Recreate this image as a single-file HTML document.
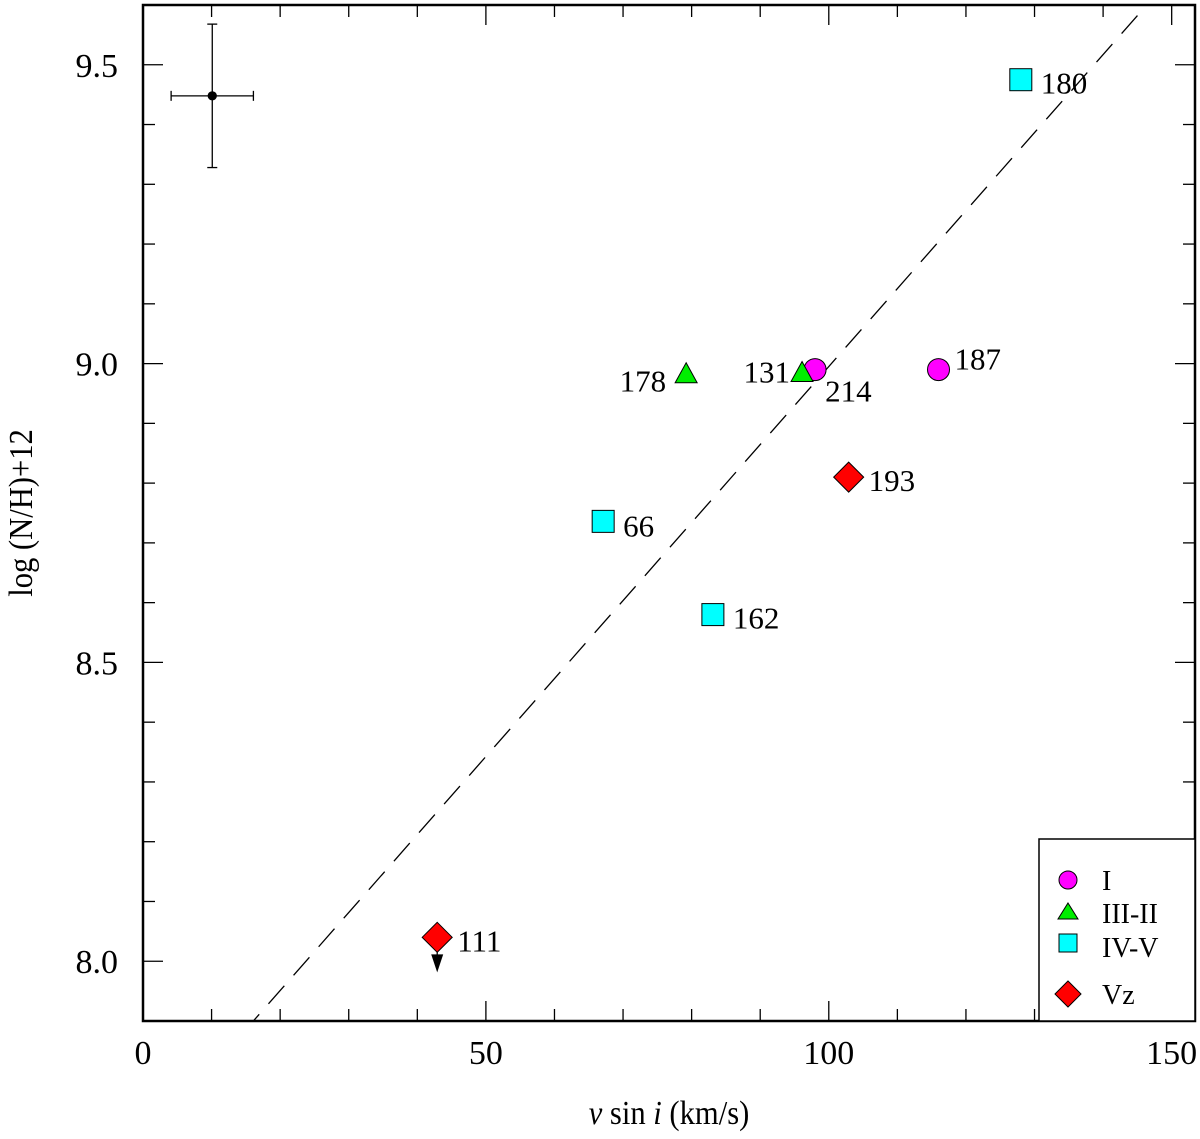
<!DOCTYPE html>
<html><head><meta charset="utf-8"><style>
html,body{margin:0;padding:0;background:#fff}
svg text{font-family:"Liberation Serif",serif;fill:#000}
</style></head><body>
<svg id="chart" width="1200" height="1134" viewBox="0 0 1200 1134" xmlns="http://www.w3.org/2000/svg">
<g id="grid"></g>
<g id="marks"></g>
<text x="669" y="1124" font-size="34" text-anchor="middle" transform="translate(669,0) scale(0.9,1) translate(-669,0)"><tspan font-style="italic">v</tspan> sin <tspan font-style="italic">i</tspan>  (km/s)</text>
<text transform="translate(32,513) rotate(-90) scale(0.9,1)" font-size="34" text-anchor="middle">log (N/H)+12</text>
<g>
<rect x="1039" y="839" width="156" height="182" fill="#fff" stroke="#000" stroke-width="1.5"/>
<circle cx="1068" cy="880" r="9" fill="#ff00ff" stroke="#000" stroke-width="1"/>
<text x="1102" y="890" font-size="28">I</text>
<polygon points="1068,903 1078,919 1058,919" fill="#00ee00" stroke="#000" stroke-width="1"/>
<text x="1102" y="923" font-size="28">III-II</text>
<rect x="1059" y="934" width="18" height="18" fill="#00ffff" stroke="#000" stroke-width="1"/>
<text x="1102" y="957" font-size="28">IV-V</text>
<polygon points="1068,981 1081,994 1068,1007 1055,994" fill="#ff0000" stroke="#000" stroke-width="1"/>
<text x="1102" y="1004" font-size="28">Vz</text>
</g>
</svg>
<script>
const xs=[98,116,79.2,96.1,128,67.1,83.1,102.9,42.9];
const ys=[8.99,8.99,8.983,8.985,9.475,8.736,8.58,8.81,8.04];
const types=['I','I','III','III','IV','IV','IV','Vz','Vz'];
const labels=['214','187','178','131','180','66','162','193','111'];
const xTicks=[0,50,100,150];
const yTicks=[8.0,8.5,9.0,9.5];
const fitSlope=0.01305, fitIntercept=7.69;
const errX=[10.1], errY=[9.448], errDX=[6], errDY=[0.12];

const X0=143,X1=1195,Y0=5,Y1=1021;
const xmin=0,xmax=153.4,ymin=7.9,ymax=9.6;
const sx=v=>X0+(v-xmin)/(xmax-xmin)*(X1-X0);
const sy=v=>Y1-(v-ymin)/(ymax-ymin)*(Y1-Y0);
const NS='http://www.w3.org/2000/svg';
function mk(tag,attrs,parent){const e=document.createElementNS(NS,tag);for(const k in attrs)e.setAttribute(k,attrs[k]);parent.appendChild(e);return e;}
const grid=document.getElementById('grid'),marks=document.getElementById('marks');

const clip=mk('clipPath',{id:'pc'},grid);mk('rect',{x:X0,y:Y0,width:X1-X0,height:Y1-Y0},clip);
const fl=mk('line',{x1:sx(0),y1:sy(fitIntercept),x2:sx(xmax),y2:sy(fitIntercept+fitSlope*xmax),stroke:'#000','stroke-width':1.3,'stroke-dasharray':'24,14','clip-path':'url(#pc)'},grid);



for(let v=0;v<=150;v+=10){const major=v%50===0;const L=major?20:12;
mk('line',{x1:sx(v),y1:Y1,x2:sx(v),y2:Y1-L,stroke:'#000','stroke-width':1.3},grid);
mk('line',{x1:sx(v),y1:Y0,x2:sx(v),y2:Y0+L,stroke:'#000','stroke-width':1.3},grid);}
for(let i=0;i<=17;i++){const v=7.9+i*0.1;const major=Math.abs(v*2-Math.round(v*2))<1e-6;const L=major?20:12;
mk('line',{x1:X0,y1:sy(v),x2:X0+L,y2:sy(v),stroke:'#000','stroke-width':1.3},grid);
mk('line',{x1:X1,y1:sy(v),x2:X1-L,y2:sy(v),stroke:'#000','stroke-width':1.3},grid);}
xTicks.forEach(v=>{const t=mk('text',{x:sx(v),y:1064,'font-size':34,'text-anchor':'middle'},grid);t.textContent=v;

});
yTicks.forEach(v=>{const t=mk('text',{x:118,y:sy(v)+12,'font-size':34,'text-anchor':'end'},grid);t.textContent=v.toFixed(1);

});
const fr=mk('rect',{x:X0,y:Y0,width:X1-X0,height:Y1-Y0,fill:'none',stroke:'#000','stroke-width':2.5},grid);



errX.forEach((v,i)=>{const cx=sx(v),cy=sy(errY[i]);const x1=sx(v-errDX[i]),x2=sx(v+errDX[i]),y1=sy(errY[i]+errDY[i]),y2=sy(errY[i]-errDY[i]);
const g=mk('g',{stroke:'#000','stroke-width':1.3},marks);


mk('line',{x1:x1,y1:cy,x2:x2,y2:cy},g);mk('line',{x1:cx,y1:y1,x2:cx,y2:y2},g);
mk('line',{x1:x1,y1:cy-5,x2:x1,y2:cy+5},g);mk('line',{x1:x2,y1:cy-5,x2:x2,y2:cy+5},g);
mk('line',{x1:cx-5,y1:y1,x2:cx+5,y2:y1},g);mk('line',{x1:cx-5,y1:y2,x2:cx+5,y2:y2},g);
mk('circle',{cx:cx,cy:cy,r:4,fill:'#000'},g);});

const lo={'214':[10,32,'start'],'187':[16,0,'start'],'178':[-20,18,'end'],'131':[-12,10,'end'],'180':[20,14,'start'],'66':[20,15,'start'],'162':[20,14,'start'],'193':[20,14,'start'],'111':[20,14,'start']};
xs.forEach((v,i)=>{const cx=sx(v),cy=sy(ys[i]);let e;
if(types[i]==='I')e=mk('circle',{cx:cx,cy:cy,r:11,fill:'#ff00ff',stroke:'#000','stroke-width':1},marks);
else if(types[i]==='III')e=mk('polygon',{points:`${cx},${cy-11} ${cx+11},${cy+9} ${cx-11},${cy+9}`,fill:'#00ee00',stroke:'#000','stroke-width':1},marks);
else if(types[i]==='IV')e=mk('rect',{x:cx-11,y:cy-11,width:22,height:22,fill:'#00ffff',stroke:'#000','stroke-width':1},marks);
else{ if(labels[i]==='111'){const a=mk('g',{},marks);
 mk('line',{x1:cx,y1:cy,x2:cx,y2:cy+25,stroke:'#000','stroke-width':1.3},a);
 mk('polygon',{points:`${cx-6},${cy+17} ${cx+6},${cy+17} ${cx},${cy+35}`,fill:'#000'},a);}
 e=mk('polygon',{points:`${cx},${cy-15} ${cx+15},${cy} ${cx},${cy+15} ${cx-15},${cy}`,fill:'#ff0000',stroke:'#000','stroke-width':1},marks);}


const o=lo[labels[i]];const t=mk('text',{x:cx+o[0],y:cy+o[1],'font-size':31,'text-anchor':o[2]},marks);t.textContent=labels[i];

});
</script>
</body></html>
